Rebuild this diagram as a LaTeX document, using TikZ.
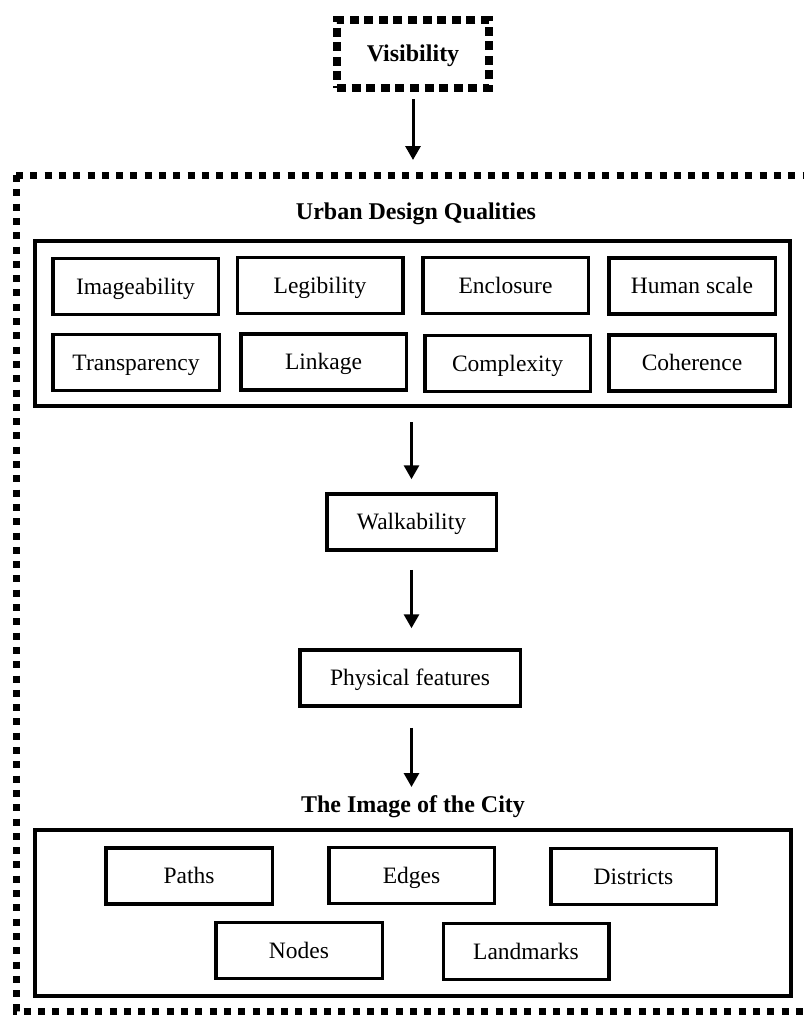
\documentclass[tikz,border=0pt]{standalone}
\usepackage{fontspec}
\setmainfont{Liberation Serif}
\usetikzlibrary{arrows.meta}
\begin{document}
\begin{tikzpicture}[x=1pt,y=-1pt,
  every node/.style={font=\fontsize{23.5}{28}\selectfont, text height=15.5pt, text depth=0pt, inner sep=0pt},
  item/.style={draw, line width=3.5pt, minimum width=165.5pt, minimum height=56pt},
  group/.style={draw, line width=4pt},
  heading/.style={font=\fontsize{24}{28}\selectfont\bfseries},
  topbox/.style={draw, line width=8pt, dash pattern=on 9pt off 5.6pt, minimum width=152pt, minimum height=68pt,
                 font=\fontsize{24}{28}\selectfont\bfseries},
  frame/.style={line width=7pt, dash pattern=on 7pt off 7.3pt},
  arr/.style={line width=3pt, -{Triangle[width=15pt,length=14pt]}}
]
\useasboundingbox (0,0) rectangle (803,1017);

% outer dotted frame (open on the right)
\draw[frame] (16,175) -- (803,175);
\draw[frame] (16,175) -- (16,1011) -- (803,1011);

% top box
\node[topbox] (vis) at (413,54) {Visibility};
\coordinate (vtip) at (413,160);
\draw[arr, shorten <=7pt] (vis.south) -- (vtip);

% urban design qualities
\node[heading] (udqt) at (416,212) {Urban Design Qualities};
\node[group, minimum width=755pt, minimum height=165pt] (udq) at (412.5,323.5) {};
\node[item] (q1) at (135.5,286.5) {Imageability};
\node[item] (q2) at (320,285.5) {Legibility};
\node[item] (q3) at (505.5,285.5) {Enclosure};
\node[item, minimum width=166.5pt] (q4) at (692,286) {Human scale};
\node[item, minimum width=166.5pt] (q5) at (136,362.5) {Transparency};
\node[item] (q6) at (323.5,362) {Linkage};
\node[item] (q7) at (507.5,363.5) {Complexity};
\node[item, minimum width=166.5pt] (q8) at (692,363) {Coherence};

% chain
\node[item, minimum width=169.5pt] (walk) at (411.5,522) {Walkability};
\node[item, minimum width=220.5pt] (phys) at (410,678) {Physical features};
\draw[arr, shorten <=14pt, shorten >=13pt] (walk.north |- udq.south) -- (walk.north);
\draw[arr, shorten <=18pt, shorten >=20pt] (walk.south) -- (walk.south |- phys.north);
\coordinate (ctip) at (411.5,787);
\draw[arr, shorten <=20pt] (phys.south -| ctip) -- (ctip);

% the image of the city
\node[heading] (cityt) at (413,805) {The Image of the City};
\node[group, minimum width=756pt, minimum height=166pt] (city) at (413,913) {};
\node[item, minimum width=166.5pt] (e1) at (189,876) {Paths};
\node[item] (e2) at (411.5,875.5) {Edges};
\node[item] (e3) at (633.5,876.5) {Districts};
\node[item, minimum width=166.5pt] (e4) at (299,950.5) {Nodes};
\node[item] (e5) at (526,951.5) {Landmarks};
\end{tikzpicture}
\end{document}
